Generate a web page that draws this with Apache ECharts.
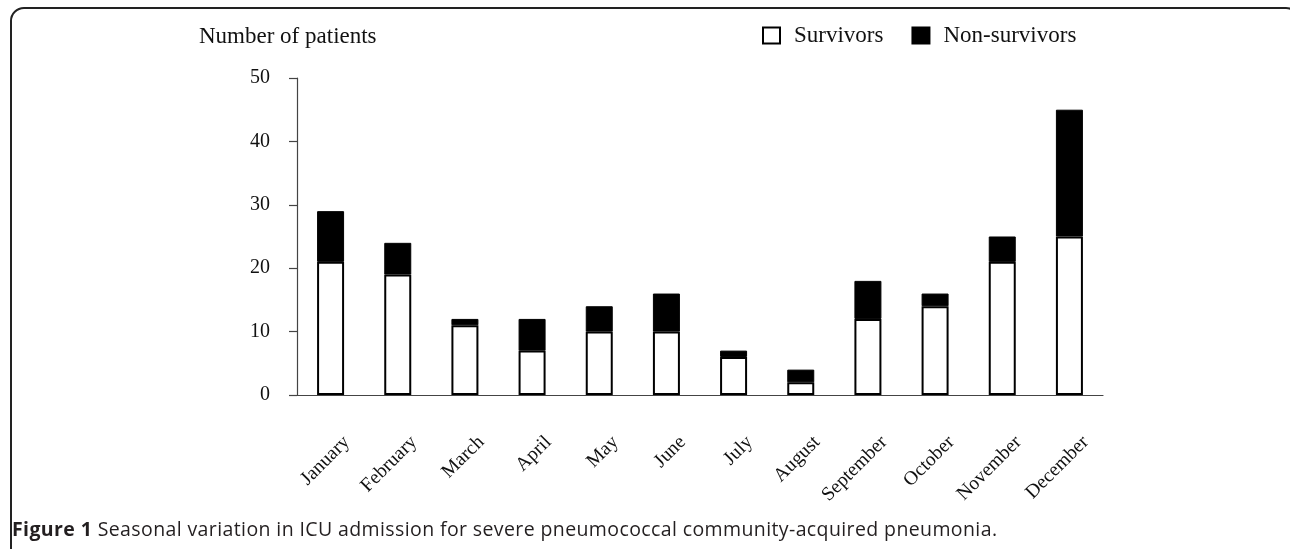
<!DOCTYPE html>
<html>
<head>
<meta charset="utf-8">
<script src="https://cdn.jsdelivr.net/npm/echarts@6/dist/echarts.min.js"></script>
<style>
  html, body { margin: 0; padding: 0; background: #fff; }
  #wrap { position: relative; width: 1290px; height: 549px; overflow: hidden; background: #fff; }
  #frame { position: absolute; left: 10px; top: 7px; width: 1290px; height: 560px;
           border: 2px solid #222; border-radius: 14px; box-sizing: border-box; }
  #chart { position: absolute; left: 0; top: 0; width: 1290px; height: 549px; }
  #caption { position: absolute; left: 12px; top: 515px; white-space: nowrap;
             font-family: "Open Sans", "Noto Sans", sans-serif; font-size: 19.5px; font-weight: 500; color: #231f20; }
  #caption b { font-weight: 700; }
</style>
</head>
<body>
<div id="wrap">
  <div id="frame"></div>
  <div id="chart"></div>
  <div id="caption"><b>Figure 1</b> Seasonal variation in ICU admission for severe pneumococcal community-acquired pneumonia.</div>
</div>
<script>
const categories = ["January", "February", "March", "April", "May", "June", "July", "August", "September", "October", "November", "December"];
const survivors = [21, 19, 11, 7, 10, 10, 6, 2, 12, 14, 21, 25];
const nonSurvivors = [8, 5, 1, 5, 4, 6, 1, 2, 6, 2, 4, 20];
const yTicks = { min: 0, max: 50, interval: 10 };
const yTitle = "Number of patients";
const seriesNames = ["Survivors", "Non-survivors"];

const serif = '"Liberation Serif", "Times New Roman", serif';
const chart = echarts.init(document.getElementById('chart'), null, { renderer: 'canvas' });
chart.setOption({
  animation: false,
  backgroundColor: 'transparent',
  title: {
    text: yTitle, left: 199, top: 25, padding: 0,
    textStyle: { fontFamily: serif, fontSize: 23, fontWeight: 'normal', color: '#111' }
  },
  legend: {
    left: 762, top: 24, padding: 0,
    itemWidth: 17, itemHeight: 16, itemGap: 28,
    icon: 'rect',
    data: seriesNames,
    textStyle: { fontFamily: serif, fontSize: 23, color: '#111', padding: [0, 0, 0, 9] }
  },
  grid: { left: 297, top: 78, right: 187, bottom: 154, containLabel: false },
  xAxis: {
    type: 'category', data: categories, boundaryGap: true,
    axisLine: { show: true, lineStyle: { color: '#444', width: 1.2 } },
    axisTick: { show: false },
    axisLabel: {
      rotate: 45, interval: 0, margin: 28, align: 'right', verticalAlign: 'top',
      padding: [13, 0, 0, 0],
      fontFamily: serif, fontSize: 19.5, color: '#111'
    }
  },
  yAxis: {
    type: 'value', min: yTicks.min, max: yTicks.max, interval: yTicks.interval,
    axisLine: { show: true, lineStyle: { color: '#444', width: 1.2 } },
    axisTick: { show: true, inside: false, length: 8, lineStyle: { color: '#444', width: 1.2 } },
    splitLine: { show: false },
    axisLabel: { margin: 27, fontFamily: serif, fontSize: 20, color: '#111' }
  },
  series: [
    {
      name: seriesNames[0], type: 'bar', stack: 'total', data: survivors, barWidth: 27,
      itemStyle: { color: '#fff', borderColor: '#000', borderWidth: 2 }
    },
    {
      name: seriesNames[1], type: 'bar', stack: 'total', data: nonSurvivors, barWidth: 27,
      itemStyle: { color: '#000', borderColor: '#000', borderWidth: 1 }
    }
  ]
});

// fit caption width to the reference span
(function () {
  const cap = document.getElementById('caption');
  const target = 985;
  const w = cap.getBoundingClientRect().width;
  const n = cap.textContent.length - 1;
  cap.style.letterSpacing = ((target - w) / n) + 'px';
})();
</script>
</body>
</html>
